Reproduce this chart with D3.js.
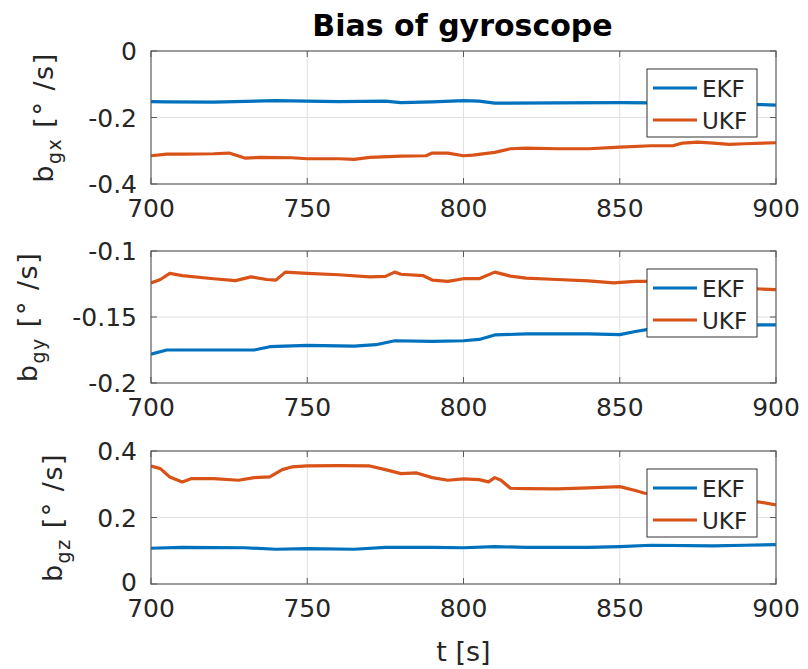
<!DOCTYPE html>
<html>
<head>
<meta charset="utf-8">
<script src="https://cdn.jsdelivr.net/npm/d3@7"></script>
<style>
  html, body { margin: 0; padding: 0; background: #fff; }
  svg { display: block; font-family: "DejaVu Sans", sans-serif; }
</style>
</head>
<body>
<svg id="chart" width="808" height="669"></svg>
<script>
// ---- data ---------------------------------------------------------------
const titleText = "Bias of gyroscope";
const xLabelText = "t [s]";
const seriesNames = ["EKF", "UKF"];
const seriesColors = ["#0072BD", "#D95319"];
const xTicks = [700, 750, 800, 850, 900];
const xDomain = [700, 900];

const axisSubs = ["gx", "gy", "gz"];
const yDomains = [[-0.4, 0], [-0.2, -0.1], [0, 0.4]];
const yTicks = [[-0.4, -0.2, 0], [-0.2, -0.15, -0.1], [0, 0.2, 0.4]];
const yTickLabels = [["-0.4", "-0.2", "0"], ["-0.2", "-0.15", "-0.1"], ["0", "0.2", "0.4"]];

// x axis bias
const gxEkfT = [700, 705, 720, 740, 745, 760, 775, 780, 790, 800, 805, 810, 830, 850, 860, 880, 895, 900];
const gxEkfV = [-0.152, -0.153, -0.154, -0.149, -0.150, -0.152, -0.151, -0.155, -0.153, -0.149, -0.151, -0.157, -0.156, -0.155, -0.156, -0.158, -0.161, -0.163];
const gxUkfT = [700, 705, 710, 720, 725, 730, 735, 745, 750, 760, 765, 770, 780, 788, 790, 795, 800, 803, 810, 815, 820, 830, 840, 850, 860, 867, 870, 875, 880, 885, 890, 900];
const gxUkfV = [-0.315, -0.310, -0.310, -0.309, -0.307, -0.322, -0.320, -0.321, -0.324, -0.324, -0.326, -0.320, -0.316, -0.315, -0.307, -0.307, -0.315, -0.313, -0.305, -0.294, -0.292, -0.294, -0.294, -0.289, -0.285, -0.285, -0.277, -0.274, -0.277, -0.281, -0.279, -0.276];

// y axis bias
const gyEkfT = [700, 705, 720, 733, 738, 750, 765, 772, 778, 790, 800, 805, 810, 820, 840, 850, 855, 860, 880, 895, 900];
const gyEkfV = [-0.1781, -0.1750, -0.1750, -0.1750, -0.1725, -0.1715, -0.1720, -0.1710, -0.1680, -0.1685, -0.1680, -0.1670, -0.1636, -0.1628, -0.1628, -0.1634, -0.1610, -0.1590, -0.1570, -0.1560, -0.1560];
const gyUkfT = [700, 703, 706, 710, 720, 727, 732, 737, 740, 743, 750, 760, 770, 775, 778, 780, 787, 790, 795, 800, 805, 810, 815, 820, 830, 840, 848, 855, 860, 875, 895, 900];
const gyUkfV = [-0.1242, -0.1216, -0.1170, -0.1186, -0.1210, -0.1224, -0.1196, -0.1216, -0.1220, -0.1160, -0.1170, -0.1180, -0.1196, -0.1192, -0.1160, -0.1176, -0.1186, -0.1220, -0.1230, -0.1210, -0.1210, -0.1160, -0.1190, -0.1206, -0.1216, -0.1226, -0.1242, -0.1230, -0.1230, -0.1260, -0.1288, -0.1293];

// z axis bias
const gzEkfT = [700, 710, 730, 740, 750, 765, 775, 790, 800, 810, 820, 840, 850, 860, 880, 890, 900];
const gzEkfV = [0.1075, 0.110, 0.109, 0.1045, 0.1065, 0.1045, 0.110, 0.110, 0.109, 0.1125, 0.110, 0.110, 0.1125, 0.1166, 0.1146, 0.1166, 0.1186];
const gzUkfT = [700, 703, 706, 710, 713, 720, 728, 733, 738, 742, 745, 750, 760, 770, 775, 780, 785, 790, 795, 800, 805, 808, 810, 812, 815, 820, 830, 840, 850, 855, 858, 875, 895, 900];
const gzUkfV = [0.355, 0.347, 0.322, 0.307, 0.317, 0.317, 0.312, 0.320, 0.322, 0.344, 0.352, 0.355, 0.356, 0.355, 0.344, 0.332, 0.334, 0.320, 0.312, 0.316, 0.314, 0.307, 0.320, 0.312, 0.288, 0.287, 0.286, 0.289, 0.293, 0.281, 0.273, 0.262, 0.246, 0.238];

const panelSeries = [
  [[gxEkfT, gxEkfV], [gxUkfT, gxUkfV]],
  [[gyEkfT, gyEkfV], [gyUkfT, gyUkfV]],
  [[gzEkfT, gzEkfV], [gzUkfT, gzUkfV]]
];

// ---- layout -------------------------------------------------------------
const plotLeft = 151, plotRight = 776;
const panelTops = [51, 251, 451];
const panelBottoms = [184, 383, 584];
const axisColor = "#262626";
const boxColor = "#5a5a5a";
const gridColor = "#e0e0e0";
const tickFont = 25;

const svg = d3.select("#chart");

const x = d3.scaleLinear().domain(xDomain).range([plotLeft, plotRight]);

svg.append("text")
  .attr("x", (plotLeft + plotRight) / 2 - 1)
  .attr("y", 36)
  .attr("text-anchor", "middle")
  .attr("font-size", 30)
  .attr("font-weight", "bold")
  .attr("fill", "#000")
  .text(titleText);

panelSeries.forEach((series, p) => {
  const top = panelTops[p], bottom = panelBottoms[p];
  const y = d3.scaleLinear().domain(yDomains[p]).range([bottom, top]);
  const g = svg.append("g");

  // grid
  g.append("g").selectAll("line.gx")
    .data(xTicks.slice(1, -1)).enter().append("line")
    .attr("x1", d => x(d)).attr("x2", d => x(d))
    .attr("y1", top).attr("y2", bottom)
    .attr("stroke", gridColor).attr("stroke-width", 1);
  g.append("g").selectAll("line.gy")
    .data(yTicks[p].slice(1, -1)).enter().append("line")
    .attr("x1", plotLeft).attr("x2", plotRight)
    .attr("y1", d => y(d)).attr("y2", d => y(d))
    .attr("stroke", gridColor).attr("stroke-width", 1);

  // data lines
  const clipId = "clip" + p;
  svg.append("clipPath").attr("id", clipId)
    .append("rect").attr("x", plotLeft).attr("y", top)
    .attr("width", plotRight - plotLeft).attr("height", bottom - top);
  const line = d3.line().x(d => x(d[0])).y(d => y(d[1]));
  series.forEach((s, i) => {
    const pts = s[0].map((t, k) => [t, s[1][k]]);
    g.append("path")
      .datum(pts)
      .attr("d", line)
      .attr("fill", "none")
      .attr("stroke", seriesColors[i])
      .attr("stroke-width", 3.2)
      .attr("stroke-linejoin", "round")
      .attr("clip-path", `url(#${clipId})`);
  });

  // inner tick marks on all four sides
  const tl = 6;
  yTicks[p].forEach(v => {
    g.append("line").attr("x1", plotLeft).attr("x2", plotLeft + tl)
      .attr("y1", y(v)).attr("y2", y(v)).attr("stroke", boxColor);
    g.append("line").attr("x1", plotRight).attr("x2", plotRight - tl)
      .attr("y1", y(v)).attr("y2", y(v)).attr("stroke", boxColor);
  });
  xTicks.forEach(v => {
    g.append("line").attr("x1", x(v)).attr("x2", x(v))
      .attr("y1", bottom).attr("y2", bottom - tl).attr("stroke", boxColor);
    g.append("line").attr("x1", x(v)).attr("x2", x(v))
      .attr("y1", top).attr("y2", top + tl).attr("stroke", boxColor);
  });

  // axes box
  g.append("rect")
    .attr("x", plotLeft).attr("y", top)
    .attr("width", plotRight - plotLeft).attr("height", bottom - top)
    .attr("fill", "none").attr("stroke", boxColor).attr("stroke-width", 1.2);

  // x tick labels
  g.append("g").selectAll("text")
    .data(xTicks).enter().append("text")
    .attr("x", d => x(d)).attr("y", bottom + 33)
    .attr("text-anchor", "middle")
    .attr("font-size", tickFont).attr("fill", axisColor)
    .text(d => d);

  // y tick labels
  const yl = g.append("g");
  yl.selectAll("text")
    .data(yTicks[p]).enter().append("text")
    .attr("x", plotLeft - 14).attr("y", (d, k) => y(d) + (p === 2 && k === 0 ? 7 : 9))
    .attr("text-anchor", "end")
    .attr("font-size", tickFont).attr("fill", axisColor)
    .text((d, k) => yTickLabels[p][k]);
  const minX = yl.node().getBBox().x;

  // y label, rotated
  const cy = (top + bottom) / 2;
  const lx = minX - 35;
  const label = g.append("text")
    .attr("transform", `translate(${lx},${cy}) rotate(-90)`)
    .attr("text-anchor", "middle")
    .attr("font-size", 27).attr("fill", axisColor)
    .attr("letter-spacing", 1.5);
  label.append("tspan").text("b");
  label.append("tspan").attr("font-size", 19).attr("dy", 8).text(axisSubs[p]);
  label.append("tspan").attr("dy", -8).text(" [° /s]");

  // legend
  const lgX = 647, lgY = top + 18, lgW = 110, lgH = 68;
  const lg = g.append("g");
  lg.append("rect")
    .attr("x", lgX).attr("y", lgY).attr("width", lgW).attr("height", lgH)
    .attr("fill", "#fff").attr("stroke", "#333").attr("stroke-width", 1);
  seriesNames.forEach((name, i) => {
    const ry = lgY + 19 + i * 32;
    lg.append("line")
      .attr("x1", lgX + 6).attr("x2", lgX + 50)
      .attr("y1", ry).attr("y2", ry)
      .attr("stroke", seriesColors[i]).attr("stroke-width", 3);
    lg.append("text")
      .attr("x", lgX + 55).attr("y", ry + 8.5)
      .attr("font-size", 23).attr("fill", axisColor)
      .text(name);
  });
});

svg.append("text")
  .attr("x", (plotLeft + plotRight) / 2)
  .attr("y", 661)
  .attr("text-anchor", "middle")
  .attr("font-size", 27).attr("fill", axisColor)
  .text(xLabelText);
</script>
</body>
</html>
